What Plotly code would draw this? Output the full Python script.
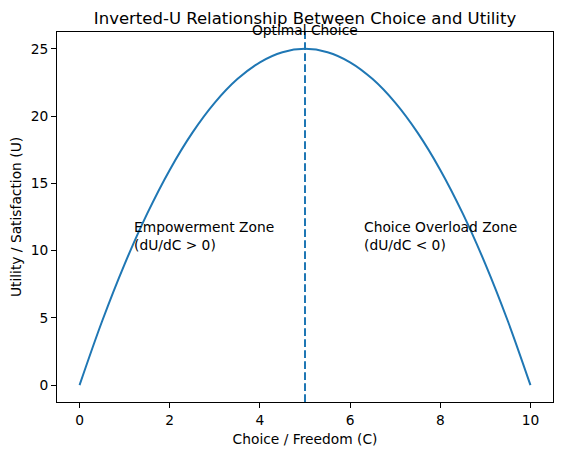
import plotly.graph_objects as go

# Data
choice = [0, 0.5, 1, 1.5, 2, 2.5, 3, 3.5, 4, 4.5, 5, 5.5, 6, 6.5, 7, 7.5, 8, 8.5, 9, 9.5, 10]
utility = [0, 4.75, 9, 12.75, 16, 18.75, 21, 22.75, 24, 24.75, 25, 24.75, 24, 22.75, 21, 18.75, 16, 12.75, 9, 4.75, 0]
optimal_choice = 5
y_ticks = [0, 5, 10, 15, 20, 25]
x_ticks = [0, 2, 4, 6, 8, 10]

FONT = "DejaVu Sans"
BLUE = "#1f77b4"
FS = 13.8
TS = 16.5

# page body has an 8px margin, so the figure is drawn 8px in from the corner
W, H = 554, 447

fig = go.Figure()
fig.add_trace(go.Scatter(x=choice, y=utility, mode="lines",
                         line=dict(color=BLUE, width=2, shape="spline", smoothing=1.0),
                         showlegend=False, hoverinfo="x+y"))

fig.add_shape(type="line", xref="x", yref="paper", x0=optimal_choice, x1=optimal_choice,
              y0=0, y1=1, line=dict(color=BLUE, width=2, dash="7.7px,3.3px"))

fig.add_annotation(x=optimal_choice, y=26, xref="x", yref="y", text="Optimal Choice",
                   showarrow=False, xanchor="center", yanchor="bottom", yshift=-5,
                   font=dict(family=FONT, size=FS, color="black"))
fig.add_annotation(x=1.2, y=10, xref="x", yref="y", text="Empowerment Zone<br>(dU/dC > 0)",
                   showarrow=False, xanchor="left", yanchor="bottom", align="left",
                   yshift=-4, xshift=-2,
                   font=dict(family=FONT, size=FS, color="black"))
fig.add_annotation(x=6.3, y=10, xref="x", yref="y", text="Choice Overload Zone<br>(dU/dC < 0)",
                   showarrow=False, xanchor="left", yanchor="bottom", align="left",
                   yshift=-4, xshift=-2,
                   font=dict(family=FONT, size=FS, color="black"))

axis_common = dict(showgrid=False, zeroline=False, showline=True, mirror=True,
                   linecolor="black", linewidth=1, ticks="outside", ticklen=5,
                   tickwidth=1, tickcolor="black", automargin=False,
                   tickfont=dict(family=FONT, size=FS, color="black"))

fig.update_layout(
    width=W, height=H,
    margin=dict(l=49, r=9, t=24, b=53),
    paper_bgcolor="white", plot_bgcolor="white",
    font=dict(family=FONT, size=FS, color="black"),
    title=dict(text="Inverted-U Relationship Between Choice and Utility",
               x=297 / W, xanchor="center", xref="container",
               y=1 - 10 / H, yanchor="middle", yref="container", automargin=False,
               font=dict(family=FONT, size=TS, color="black")),
    xaxis=dict(range=[-0.5, 10.5], tickvals=x_ticks,
               title=dict(text="Choice / Freedom (C)", standoff=7,
                          font=dict(family=FONT, size=FS, color="black")),
               **axis_common),
    yaxis=dict(range=[-1.25, 26.25], tickvals=y_ticks,
               title=dict(text="Utility / Satisfaction (U)", standoff=5,
                          font=dict(family=FONT, size=FS, color="black")),
               **axis_common),
)

fig.write_html("out.html")
